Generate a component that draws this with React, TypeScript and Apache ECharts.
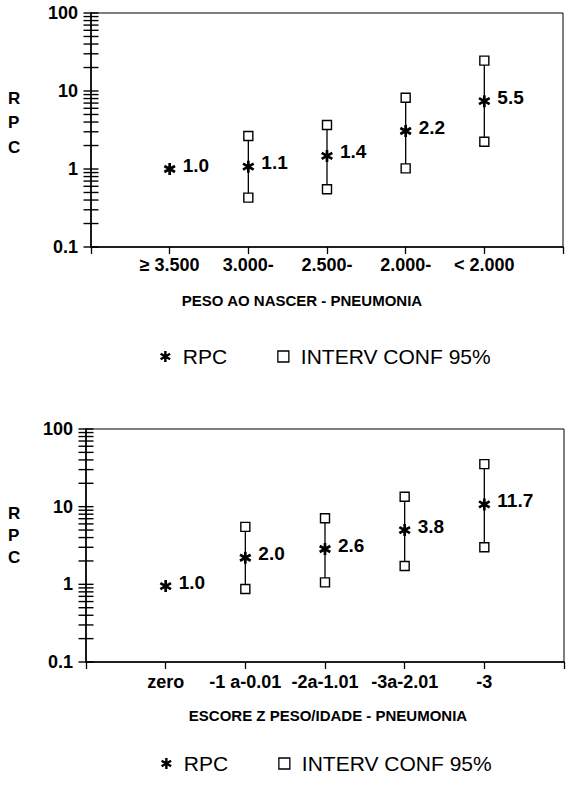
import React, { useEffect, useRef } from "react";
import * as echarts from "echarts";

// ---------- data ----------
const categoriesTop = ["≥ 3.500", "3.000-", "2.500-", "2.000-", "< 2.000"];
const rpcTop = [1.0, 1.07, 1.47, 3.07, 7.4];
const rpcLabelsTop = ["1.0", "1.1", "1.4", "2.2", "5.5"];
const ciLowTop = [null, 0.43, 0.55, 1.02, 2.24];
const ciHighTop = [null, 2.65, 3.66, 8.2, 24.5];

const categoriesBottom = ["zero", "-1 a-0.01", "-2a-1.01", "-3a-2.01", "-3"];
const rpcBottom = [0.95, 2.2, 2.85, 5.0, 10.7];
const rpcLabelsBottom = ["1.0", "2.0", "2.6", "3.8", "11.7"];
const ciLowBottom = [null, 0.87, 1.06, 1.72, 3.0];
const ciHighBottom = [null, 5.5, 7.1, 13.4, 35.3];

const axisNameTop = "PESO AO NASCER - PNEUMONIA";
const axisNameBottom = "ESCORE Z PESO/IDADE - PNEUMONIA";
const yTitle = "R\nP\nC";
const legendRpc = "RPC";
const legendCi = "INTERV CONF 95%";

const decadeValues = [0.1, 1, 10, 100];
const minorMultipliers = [2, 3, 4, 5, 6, 7, 8, 9];

const FONT = "'Liberation Sans', Arial, Helvetica, sans-serif";
const STAR =
  "path://M-1.1,-5L1.1,-5L1.1,5L-1.1,5Z M-4.88,-1.55L-3.78,-3.45L4.88,1.55L3.78,3.45Z M-3.78,3.45L-4.88,1.55L3.78,-3.45L4.88,-1.55Z";

function tickValues() {
  const out: number[] = [...decadeValues];
  decadeValues.slice(0, 3).forEach((d) => minorMultipliers.forEach((m) => out.push(d * m)));
  return out;
}

function panel(idx: number, cats: string[], rpc: number[], labels: string[], lo: (number | null)[], hi: (number | null)[]) {
  const xAxis = {
    type: "value",
    gridIndex: idx,
    min: 0,
    max: 6,
    interval: 1,
    axisLine: { show: true, onZero: false, lineStyle: { color: "#000", width: 1.6 } },
    axisTick: { show: true, length: 7, lineStyle: { color: "#000", width: 1.3 } },
    splitLine: { show: false },
    axisLabel: {
      margin: idx === 0 ? 9 : 11,
      color: "#000",
      fontFamily: FONT,
      fontSize: 18,
      fontWeight: "bold",
      formatter: (v: number) => cats[v - 1] ?? "",
    },
  };
  const yAxis = {
    type: "log",
    logBase: 10,
    gridIndex: idx,
    min: 0.1,
    max: 100,
    axisLine: { show: true, onZero: false, lineStyle: { color: "#000", width: 1.6 } },
    axisTick: { show: false },
    minorTick: { show: false },
    splitLine: { show: false },
    axisLabel: {
      margin: 13,
      color: "#000",
      fontFamily: FONT,
      fontSize: 18,
      fontWeight: "bold",
      formatter: (v: number) => String(Number(v.toPrecision(3))),
    },
  };
  const ciIdx = rpc.map((_, i) => i).filter((i) => lo[i] != null && hi[i] != null);
  const series = [
    {
      type: "custom",
      xAxisIndex: idx,
      yAxisIndex: idx,
      silent: true,
      clip: false,
      z: 5,
      data: tickValues().map((v) => [0, v]),
      renderItem: (_p: any, api: any) => {
        const p = api.coord([0, api.value(1)]);
        return {
          type: "line",
          shape: { x1: p[0] - 7.5, y1: p[1], x2: p[0] + 7.5, y2: p[1] },
          style: { stroke: "#000", lineWidth: 1.4 },
        };
      },
    },
    {
      type: "custom",
      xAxisIndex: idx,
      yAxisIndex: idx,
      silent: true,
      z: 2,
      encode: { x: 0, y: [1, 2] },
      data: ciIdx.map((i) => [i + 1, lo[i], hi[i]]),
      renderItem: (_p: any, api: any) => {
        const a = api.coord([api.value(0), api.value(1)]);
        const b = api.coord([api.value(0), api.value(2)]);
        return {
          type: "line",
          shape: { x1: a[0], y1: a[1], x2: b[0], y2: b[1] },
          style: { stroke: "#000", lineWidth: 1.3 },
        };
      },
    },
    {
      type: "scatter",
      name: legendCi,
      xAxisIndex: idx,
      yAxisIndex: idx,
      z: 3,
      symbol: "rect",
      symbolSize: 9,
      itemStyle: { color: "#fff", borderColor: "#000", borderWidth: 1.4, opacity: 1 },
      data: ciIdx.flatMap((i) => [
        [i + 1, lo[i]],
        [i + 1, hi[i]],
      ]),
    },
    {
      type: "scatter",
      name: legendRpc,
      xAxisIndex: idx,
      yAxisIndex: idx,
      z: 4,
      symbol: STAR,
      symbolSize: 12,
      itemStyle: { color: "#000", opacity: 1 },
      label: {
        show: true,
        position: "right",
        distance: 7,
        offset: [0, -4],
        color: "#000",
        fontFamily: FONT,
        fontSize: 19,
        fontWeight: "bold",
        formatter: (p: any) => labels[p.dataIndex],
      },
      data: rpc.map((v, i) => [i + 1, v]),
    },
  ];
  return { xAxis, yAxis, series };
}

function legendFor(top: number, left: number) {
  return {
    top,
    left,
    orient: "horizontal",
    selectedMode: false,
    itemWidth: 11,
    itemHeight: 11,
    itemGap: 50,
    textStyle: { color: "#000", fontFamily: FONT, fontSize: 21, padding: [0, 0, 0, 7] },
    data: [
      { name: legendRpc, icon: STAR, itemStyle: { color: "#000", borderWidth: 0 } },
      { name: legendCi, icon: "rect", itemStyle: { color: "#fff", borderColor: "#000", borderWidth: 1.3 } },
    ],
  };
}

export default function App() {
  const ref = useRef<HTMLDivElement>(null);
  useEffect(() => {
    if (!ref.current) return;
    const chart = echarts.init(ref.current, undefined, { renderer: "svg" });
    const p1 = panel(0, categoriesTop, rpcTop, rpcLabelsTop, ciLowTop, ciHighTop);
    const p2 = panel(1, categoriesBottom, rpcBottom, rpcLabelsBottom, ciLowBottom, ciHighBottom);
    const gridStyle = { show: true, borderColor: "#000", borderWidth: 1, backgroundColor: "transparent" };
    chart.setOption({
      animation: false,
      backgroundColor: "#fff",
      grid: [
        { left: 91, top: 13, width: 472, height: 234, ...gridStyle },
        { left: 86, top: 429, width: 478, height: 233, ...gridStyle },
      ],
      xAxis: [p1.xAxis, p2.xAxis],
      yAxis: [p1.yAxis, p2.yAxis],
      series: [...p1.series, ...p2.series],
      legend: [legendFor(341, 155), legendFor(748, 156)],
      graphic: [
        {
          type: "text",
          left: 8,
          top: 86,
          style: { text: yTitle, fontFamily: FONT, fontSize: 17, fontWeight: "bold", fill: "#000", lineHeight: 24.5 },
        },
        {
          type: "text",
          left: 8,
          top: 502,
          style: { text: yTitle, fontFamily: FONT, fontSize: 17, fontWeight: "bold", fill: "#000", lineHeight: 22 },
        },
        {
          type: "text",
          x: 302,
          y: 300,
          style: { text: axisNameTop, fontFamily: FONT, fontSize: 15, fontWeight: "bold", fill: "#000", align: "center", verticalAlign: "middle" },
        },
        {
          type: "text",
          x: 328,
          y: 715,
          style: { text: axisNameBottom, fontFamily: FONT, fontSize: 15, fontWeight: "bold", fill: "#000", align: "center", verticalAlign: "middle" },
        },
      ],
    });
    return () => chart.dispose();
  }, []);
  return <div ref={ref} style={{ position: "absolute", left: 0, top: 0, width: 574, height: 785 }} />;
}
